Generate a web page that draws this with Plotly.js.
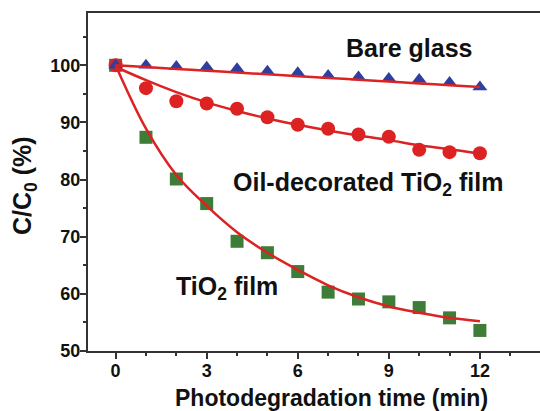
<!DOCTYPE html>
<html>
<head>
<meta charset="utf-8">
<script src="https://cdn.plot.ly/plotly-3.0.1.min.js"></script>
<style>html,body{margin:0;padding:0;background:#fff;}#chart{width:540px;height:411px;}</style>
</head>
<body>
<div id="chart"></div>
<script>
// Time (min)
const timeMin = [0, 1, 2, 3, 4, 5, 6, 7, 8, 9, 10, 11, 12];

// Measured C/C0 (%)
const bareGlass = [100, 100.0, 99.8, 99.65, 99.4, 98.95, 98.7, 98.2, 97.97, 97.7, 97.5, 97.0, 96.2];
const oilTiO2   = [100, 96.0, 93.7, 93.3, 92.4, 90.9, 89.6, 88.9, 87.9, 87.5, 85.2, 84.8, 84.6];
const tio2Film  = [100, 87.4, 80.1, 75.8, 69.2, 67.2, 63.9, 60.3, 59.1, 58.6, 57.6, 55.8, 53.6];

// Fitted curves at each minute
const bareFit = [100, 99.68, 99.37, 99.05, 98.73, 98.42, 98.1, 97.78, 97.47, 97.15, 96.83, 96.52, 96.2];
const oilFit  = [99.7, 97.4, 95.3, 93.5, 92.0, 90.7, 89.6, 88.6, 87.7, 86.9, 86.0, 85.3, 84.5];
const tio2Fit = [100, 88.9, 80.8, 75.4, 70.8, 67.2, 64.2, 61.5, 59.4, 57.8, 56.7, 55.8, 55.2];

const xTicks = [0, 3, 6, 9, 12];
const yTicks = [50, 60, 70, 80, 90, 100];

const RED = '#dc2222';
const BLUE = '#2e3f9f';
const GREEN = '#3e7d38';
const FONT = 'Liberation Sans, Arial, sans-serif';

const traces = [
  {x: timeMin, y: tio2Film, mode: 'markers', type: 'scatter',
   marker: {symbol: 'square', size: 13, color: GREEN}},
  {x: timeMin, y: oilTiO2, mode: 'markers', type: 'scatter',
   marker: {symbol: 'circle', size: 14, color: RED}},
  {x: timeMin, y: bareGlass, mode: 'markers', type: 'scatter',
   marker: {symbol: 'triangle-up', size: 13, color: BLUE}},
  {x: timeMin, y: tio2Fit, mode: 'lines', type: 'scatter',
   line: {color: RED, width: 2.5, shape: 'spline'}},
  {x: timeMin, y: oilFit, mode: 'lines', type: 'scatter',
   line: {color: RED, width: 2.5, shape: 'spline'}},
  {x: timeMin, y: bareFit, mode: 'lines', type: 'scatter',
   line: {color: RED, width: 2.5, shape: 'spline'}}
];

const layout = {
  width: 540, height: 411,
  margin: {l: 88, r: 0, t: 13, b: 60},
  paper_bgcolor: '#fff', plot_bgcolor: '#fff',
  showlegend: false,
  font: {family: FONT, color: '#111'},
  xaxis: {
    range: [-0.91, 13.98], showgrid: false, zeroline: false,
    tickvals: xTicks, ticktext: xTicks.map(String),
    ticks: 'outside', ticklen: 6, tickwidth: 2, tickcolor: '#333',
    ticklabelstandoff: -4,
    minor: {dtick: 1, tick0: 0, ticks: 'outside', ticklen: 3, tickwidth: 2, tickcolor: '#333'},
    showline: true, linecolor: '#333', linewidth: 2, mirror: true,
    tickfont: {family: FONT, size: 18, color: '#111', weight: 'bold'}
  },
  yaxis: {
    range: [50, 109.15], showgrid: false, zeroline: false,
    tickvals: yTicks, ticktext: yTicks.map(String),
    ticks: 'outside', ticklen: 6, tickwidth: 2, tickcolor: '#333',
    ticklabelstandoff: -4,
    minor: {dtick: 5, tick0: 50, ticks: 'outside', ticklen: 3, tickwidth: 2, tickcolor: '#333'},
    showline: true, linecolor: '#333', linewidth: 2, mirror: false,
    tickfont: {family: FONT, size: 18, color: '#111', weight: 'bold'}
  },
  annotations: [
    {text: 'Photodegradation time (min)', xref: 'paper', yref: 'paper',
     x: 0.538, y: -0.094, xanchor: 'center', yanchor: 'top', showarrow: false,
     font: {family: FONT, size: 23, color: '#111', weight: 'bold'}},
    {text: 'C/C<sub>0</sub> (%)', xref: 'paper', yref: 'paper',
     x: -0.14, y: 0.49, xanchor: 'center', yanchor: 'middle', showarrow: false, textangle: -90,
     font: {family: FONT, size: 25, color: '#111', weight: 'bold'}},
    {text: 'Bare glass', xref: 'x', yref: 'y', x: 9.66, y: 102.96,
     xanchor: 'center', yanchor: 'middle', showarrow: false,
     font: {family: FONT, size: 25, color: '#111', weight: 'bold'}},
    {text: 'Oil-decorated TiO<sub>2</sub> film', xref: 'x', yref: 'y', x: 8.32, y: 79.2,
     xanchor: 'center', yanchor: 'middle', showarrow: false,
     font: {family: FONT, size: 25, color: '#111', weight: 'bold'}},
    {text: 'TiO<sub>2</sub> film', xref: 'x', yref: 'y', x: 3.66, y: 61.1,
     xanchor: 'center', yanchor: 'middle', showarrow: false,
     font: {family: FONT, size: 25, color: '#111', weight: 'bold'}}
  ]
};

Plotly.newPlot('chart', traces, layout, {displayModeBar: false, staticPlot: true});
</script>
</body>
</html>
